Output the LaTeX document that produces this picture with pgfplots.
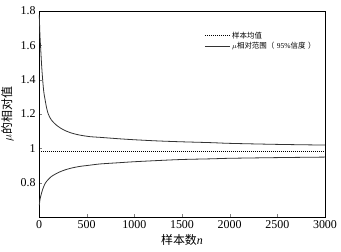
\documentclass[border=0pt]{standalone}
\usepackage{pgfplots}
\pgfplotsset{compat=1.18}
\usepackage{fontspec}
\setmainfont{Liberation Serif}
\newfontfamily\cjk{Noto Sans CJK SC}
\definecolor{curve}{HTML}{333333}
\begin{document}
\begin{tikzpicture}
\useasboundingbox (-39bp,-35bp) rectangle (302bp,217bp);
\begin{axis}[
  at={(0,0)}, anchor=south west,
  scale only axis, width=286bp, height=206bp,
  xmin=0, xmax=3000, ymin=0.6, ymax=1.8,
  xtick={0,500,1000,1500,2000,2500,3000},
  ytick={0.8,1,1.2,1.4,1.6,1.8},
  xtick pos=bottom, ytick pos=left,
  tick align=inside, major tick length=3bp,
  /pgf/number format/assume math mode=true,
  /pgf/number format/1000 sep={},
  ticklabel style={font=\fontsize{12}{12}\selectfont},
  axis line style={line width=0.8bp},
  xlabel={{\cjk 样本数}\textit{n}},
  ylabel={$\mu${\cjk 的相对值}},
  xlabel style={font=\fontsize{12}{12}\selectfont, yshift=1bp},
  ylabel style={font=\fontsize{12}{12}\selectfont},
  legend style={draw=none, fill=none, at={(0.978,0.915)}, anchor=north east,
    font=\fontsize{7.5}{9}\selectfont, row sep=-1.5bp, inner sep=1bp},
  legend cell align=left,
  legend image code/.code={\draw[#1] (0bp,0bp) -- (25bp,0bp);},
]
\addplot[black, line width=0.6bp, dash pattern=on 1bp off 1bp] coordinates {(0,0.984) (3000,0.984)};
\addlegendentry{{\cjk 样本均值}}
\addplot[curve, line width=0.8bp, smooth] coordinates {
(3,1.777) (10,1.66) (18,1.578) (28,1.48) (38,1.403) (50,1.33) (63,1.286) (80,1.235)
(98,1.199) (130,1.165) (185,1.134) (250,1.110) (325,1.092) (420,1.078) (535,1.068)
(640,1.064) (832,1.056) (1000,1.050) (1250,1.043) (1500,1.038) (1812,1.033)
(2000,1.029) (2500,1.023) (3000,1.019)};
\addlegendentry{$\mu${\cjk 相对范围（}\hspace{2.5bp}95\%{\cjk 信度}\hspace{2.5bp}{\cjk ）}}
\addplot[curve, line width=0.8bp, smooth, forget plot] coordinates {
(3,0.668) (10,0.700) (18,0.721) (28,0.742) (38,0.760) (50,0.778) (63,0.794) (80,0.808)
(98,0.819) (130,0.836) (185,0.854) (250,0.870) (325,0.883) (420,0.894) (535,0.902)
(640,0.909) (832,0.916) (1000,0.922) (1250,0.929) (1500,0.935) (1812,0.939)
(2000,0.942) (2500,0.946) (3000,0.949)};
\end{axis}
\end{tikzpicture}
\end{document}
